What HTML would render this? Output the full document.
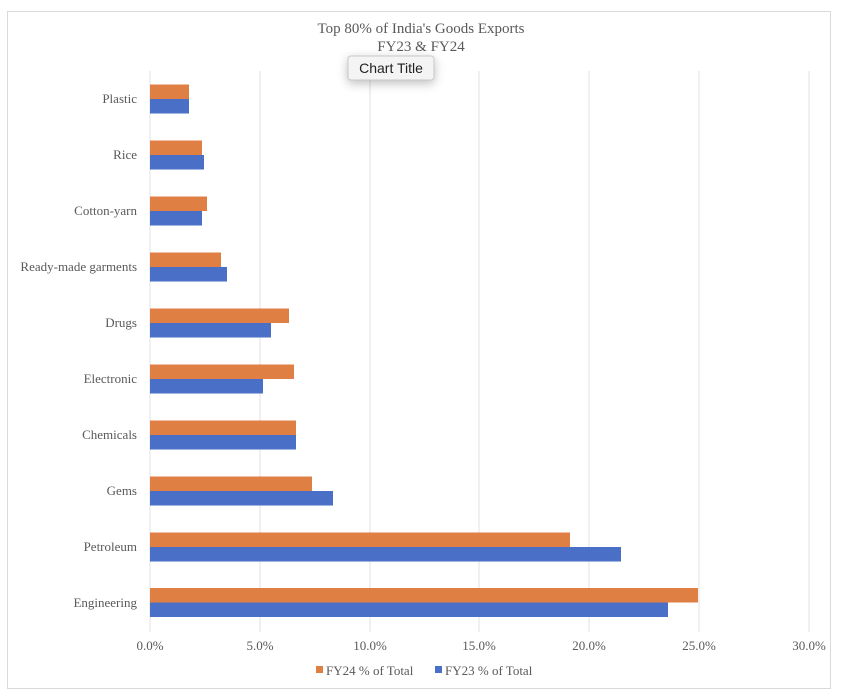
<!DOCTYPE html>
<html><head><meta charset="utf-8"><style>
html,body{margin:0;padding:0;background:#fff;}
svg{display:block;font-family:"Liberation Serif",serif;}
</style></head><body>
<svg width="841" height="700" xmlns="http://www.w3.org/2000/svg">
<rect x="0" y="0" width="841" height="700" fill="#fff"/>
<rect x="7.5" y="11.5" width="823" height="677" fill="#fff" stroke="#d9d9d9" stroke-width="1"/>
<text x="421" y="33" text-anchor="middle" font-size="15" fill="#595959">Top 80% of India's Goods Exports</text>
<text x="421" y="51" text-anchor="middle" font-size="15" fill="#595959">FY23 &amp; FY24</text>
<g stroke="#e0e0e0" stroke-width="1">
<line x1="150" y1="71" x2="150" y2="632"/><line x1="260" y1="71" x2="260" y2="632"/>
<line x1="370" y1="71" x2="370" y2="632"/><line x1="479" y1="71" x2="479" y2="632"/>
<line x1="589" y1="71" x2="589" y2="632"/><line x1="699" y1="71" x2="699" y2="632"/>
<line x1="809" y1="71" x2="809" y2="632"/>
</g>
<g id="bars"></g>
<g font-size="13" fill="#595959" text-anchor="middle">
<text x="150" y="650">0.0%</text><text x="260" y="650">5.0%</text><text x="370" y="650">10.0%</text>
<text x="479" y="650">15.0%</text><text x="589" y="650">20.0%</text><text x="699" y="650">25.0%</text><text x="809" y="650">30.0%</text>
</g>
<rect x="316" y="666" width="7" height="7" fill="#e07f43"/>
<text x="326" y="675" font-size="13" fill="#595959">FY24 % of Total</text>
<rect x="435" y="666" width="7" height="7" fill="#4a6fc6"/>
<text x="445" y="675" font-size="13" fill="#595959">FY23 % of Total</text>
<g font-size="13" fill="#595959" text-anchor="end">
<text x="137" y="103">Plastic</text>
<text x="137" y="159">Rice</text>
<text x="137" y="215">Cotton-yarn</text>
<text x="137" y="271">Ready-made garments</text>
<text x="137" y="327">Drugs</text>
<text x="137" y="383">Electronic</text>
<text x="137" y="439">Chemicals</text>
<text x="137" y="495">Gems</text>
<text x="137" y="551">Petroleum</text>
<text x="137" y="607">Engineering</text>
</g>
<g>
<rect x="150" y="84.5" width="39" height="14.5" fill="#e07f43"/><rect x="150" y="99" width="39" height="14.5" fill="#4a6fc6"/>
<rect x="150" y="140.5" width="52" height="14.5" fill="#e07f43"/><rect x="150" y="155" width="54" height="14.5" fill="#4a6fc6"/>
<rect x="150" y="196.5" width="57" height="14.5" fill="#e07f43"/><rect x="150" y="211" width="52" height="14.5" fill="#4a6fc6"/>
<rect x="150" y="252.5" width="71" height="14.5" fill="#e07f43"/><rect x="150" y="267" width="77" height="14.5" fill="#4a6fc6"/>
<rect x="150" y="308.5" width="139" height="14.5" fill="#e07f43"/><rect x="150" y="323" width="121" height="14.5" fill="#4a6fc6"/>
<rect x="150" y="364.5" width="144" height="14.5" fill="#e07f43"/><rect x="150" y="379" width="113" height="14.5" fill="#4a6fc6"/>
<rect x="150" y="420.5" width="146" height="14.5" fill="#e07f43"/><rect x="150" y="435" width="146" height="14.5" fill="#4a6fc6"/>
<rect x="150" y="476.5" width="162" height="14.5" fill="#e07f43"/><rect x="150" y="491" width="183" height="14.5" fill="#4a6fc6"/>
<rect x="150" y="532.5" width="420" height="14.5" fill="#e07f43"/><rect x="150" y="547" width="471" height="14.5" fill="#4a6fc6"/>
<rect x="150" y="588" width="548" height="14.5" fill="#e07f43"/><rect x="150" y="602.5" width="518" height="14.5" fill="#4a6fc6"/>
</g>
<rect x="348" y="56" width="86" height="24" rx="3" fill="#f4f4f4" stroke="#c8c8c8" style="filter:drop-shadow(0 3px 5px rgba(0,0,0,0.25))"/>
<text x="391" y="73" text-anchor="middle" font-family="Liberation Sans, sans-serif" font-size="14" fill="#222">Chart Title</text>
</svg>
</body></html>
